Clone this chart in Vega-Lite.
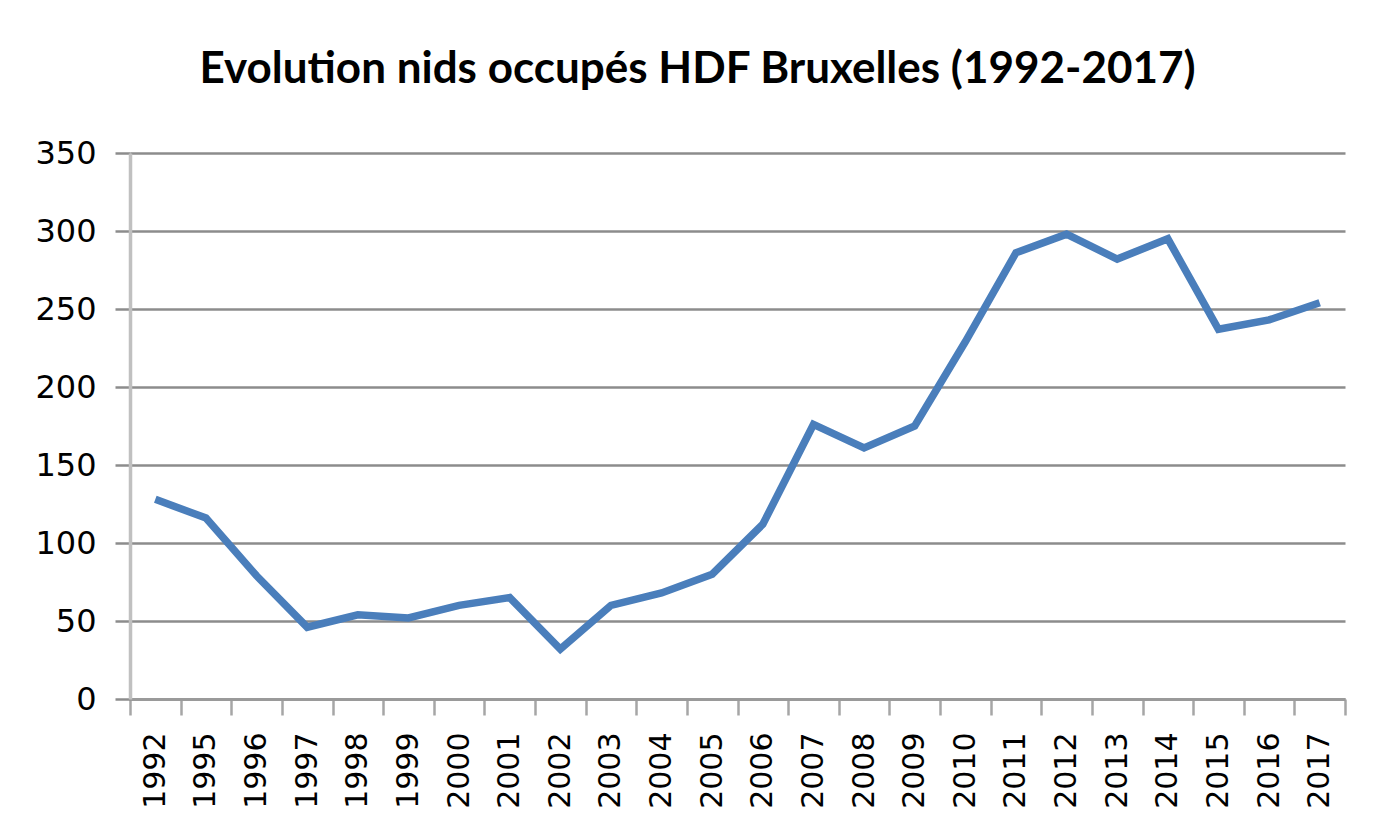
{
  "$schema": "https://vega.github.io/schema/vega-lite/v6.json",
  "width": 1215,
  "height": 546,
  "autosize": {"type": "none"},
  "padding": {"left": 130, "top": 153, "right": 48, "bottom": 137},
  "background": "white",
  "title": {
    "text": "Evolution nids occupés HDF Bruxelles (1992-2017)",
    "font": "Lato",
    "fontWeight": "bold",
    "fontSize": 44,
    "color": "black",
    "anchor": "middle",
    "baseline": "alphabetic",
    "offset": 10,
    "dx": -40
  },
  "data": {
    "values": [
      {"annee": "1992", "nids": 128},
      {"annee": "1995", "nids": 116},
      {"annee": "1996", "nids": 79},
      {"annee": "1997", "nids": 46},
      {"annee": "1998", "nids": 54},
      {"annee": "1999", "nids": 52},
      {"annee": "2000", "nids": 60},
      {"annee": "2001", "nids": 65},
      {"annee": "2002", "nids": 32},
      {"annee": "2003", "nids": 60},
      {"annee": "2004", "nids": 68},
      {"annee": "2005", "nids": 80},
      {"annee": "2006", "nids": 112},
      {"annee": "2007", "nids": 176},
      {"annee": "2008", "nids": 161},
      {"annee": "2009", "nids": 175},
      {"annee": "2010", "nids": 229},
      {"annee": "2011", "nids": 286},
      {"annee": "2012", "nids": 298},
      {"annee": "2013", "nids": 282},
      {"annee": "2014", "nids": 295},
      {"annee": "2015", "nids": 237},
      {"annee": "2016", "nids": 243},
      {"annee": "2017", "nids": 254}
    ]
  },
  "mark": {"type": "line", "color": "#4a7ebb", "strokeWidth": 7.5, "strokeJoin": "miter", "strokeCap": "butt"},
  "encoding": {
    "x": {
      "field": "annee",
      "type": "ordinal",
      "bandPosition": 0.5,
      "scale": {"type": "band", "paddingInner": 0, "paddingOuter": 0},
      "axis": {
        "title": null,
        "labelAngle": -90,
        "labelFont": "DejaVu Sans",
        "labelFontSize": 30,
        "labelColor": "black",
        "labelPadding": 17,
        "tickBand": "extent",
        "tickSize": 16,
        "tickColor": "#a6a6a6",
        "tickWidth": 2.5,
        "domainColor": "#9a9a9a",
        "domainWidth": 3,
        "grid": false
      }
    },
    "y": {
      "field": "nids",
      "type": "quantitative",
      "scale": {"domain": [0, 350], "nice": false, "zero": true},
      "axis": {
        "title": null,
        "values": [0, 50, 100, 150, 200, 250, 300, 350],
        "labelFont": "DejaVu Sans",
        "labelFontSize": 32,
        "labelColor": "black",
        "labelPadding": 19,
        "tickSize": 15,
        "tickColor": "#8c8c8c",
        "tickWidth": 2.5,
        "domainColor": "#c0c0c0",
        "domainWidth": 3.5,
        "grid": true,
        "gridColor": "#8c8c8c",
        "gridWidth": 2.5
      }
    }
  },
  "config": {
    "view": {"stroke": null}
  }
}
